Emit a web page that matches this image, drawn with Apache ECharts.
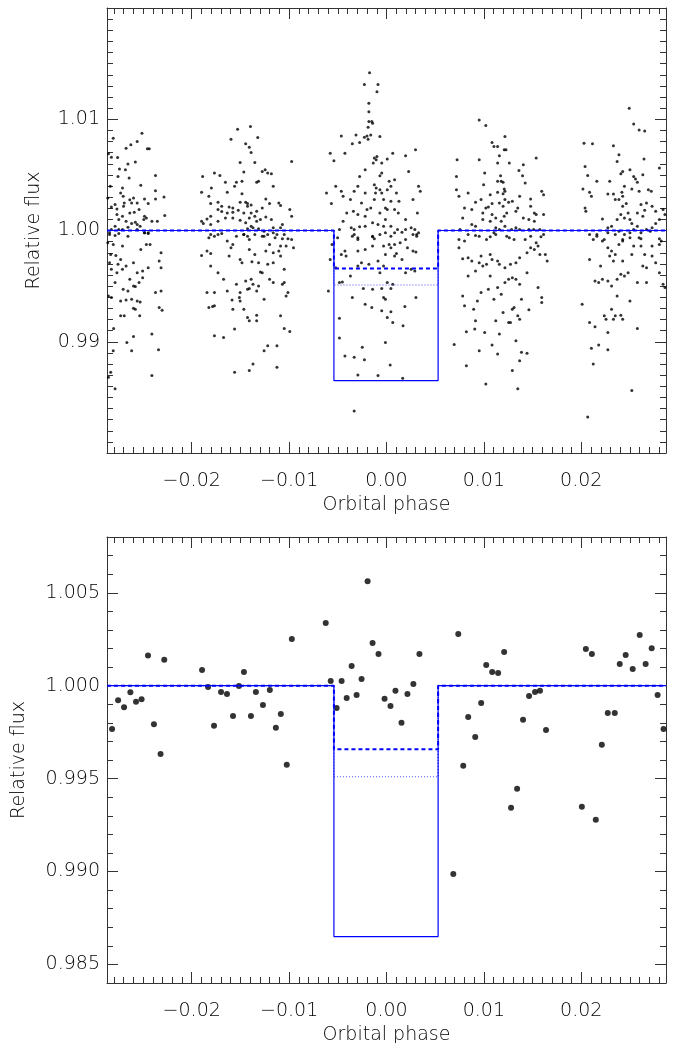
<!DOCTYPE html>
<html><head><meta charset="utf-8">
<script src="https://cdn.jsdelivr.net/npm/echarts@6/dist/echarts.min.js"></script>
<style>html,body{margin:0;padding:0;background:#fff}#c{width:678px;height:1043px}</style>
</head><body><div id="c"></div>
<script>
// ---------- tick values & labels ----------
const phaseTicks = [-0.02, -0.01, 0, 0.01, 0.02];
const phaseTickLabels = ['\u22120.02', '\u22120.01', '0.00', '0.01', '0.02'];
const fluxTicksTop = [0.99, 1.00, 1.01];
const fluxTickLabelsTop = ['0.99', '1.00', '1.01'];
const fluxTicksBottom = [0.985, 0.990, 0.995, 1.000, 1.005];
const fluxTickLabelsBottom = ['0.985', '0.990', '0.995', '1.000', '1.005'];

// ---------- unbinned photometry (top panel), [phase, relative flux] ----------
const unbinnedA = [[-0.02855,1.00689],[-0.02825,1.00659],[-0.02806,1.0083],[-0.02761,1.00656],[-0.02836,1.00397],[-0.02862,1.00292],[-0.02742,1.00552],[-0.02757,1.00486],[-0.02681,1.00546],[-0.02674,1.0074],[-0.02625,1.0077],[-0.0256,1.008],[-0.02511,1.00874],[-0.02579,1.00615],[-0.02655,1.00597],[-0.02643,1.00472],[-0.02711,1.00382],[-0.0273,1.00337],[-0.02704,1.00307],[-0.02787,1.00233],[-0.02768,1.00194],[-0.02825,1.00212],[-0.02693,1.00248],[-0.02636,1.00277],[-0.02598,1.00292],[-0.0256,1.00248],[-0.02523,1.00406],[-0.02485,1.00284],[-0.02447,1.00242],[-0.02436,1.00734],[-0.02455,1.00734],[-0.02372,1.00495],[-0.02372,1.00358],[-0.02372,1.00284],[-0.02285,1.00301],[-0.02277,1.00134],[-0.02485,1.00128],[-0.02466,1.00113],[-0.02492,1.00098],[-0.0256,1.00054],[-0.0253,1.00039],[-0.02579,1.00075],[-0.02617,1.00063],[-0.02674,1.00084],[-0.02711,1.00128],[-0.02749,1.00098],[-0.02768,1.00143],[-0.02787,1.00039],[-0.02825,1.00009],[-0.02844,0.99979],[-0.02749,1.00009],[-0.02711,1.00009],[-0.02655,1.0003],[-0.02485,0.99979],[-0.02447,0.99979],[-0.02353,1.00084],[-0.02409,1.00084],[-0.0256,1.00009],[-0.027,1.00218],[-0.02636,1.00158],[-0.0259,1.00164],[-0.02617,1.00248],[-0.02541,1.00188],
[-0.02844,0.99964],[-0.02787,0.99955],[-0.02749,0.99973],[-0.02655,0.99949],[-0.02862,0.9989],[-0.02806,0.99875],[-0.02711,0.9986],[-0.02832,0.99785],[-0.02779,0.99776],[-0.02844,0.99711],[-0.0273,0.9974],[-0.02711,0.99651],[-0.02674,0.99681],[-0.02757,0.99696],[-0.02787,0.99532],[-0.02855,0.99412],[-0.02825,0.99397],[-0.02704,0.99472],[-0.02598,0.99502],[-0.02579,0.99496],[-0.02541,0.99532],[-0.02504,0.99636],[-0.02447,0.99666],[-0.02428,0.99875],[-0.02485,0.99979],[-0.02447,0.99973],[-0.02334,0.99726],[-0.02315,0.998],[-0.02315,0.99666],[-0.02372,0.99442],[-0.02315,0.99457],[-0.02334,0.99308],[-0.02304,0.99284],[-0.0273,0.99367],[-0.02674,0.99376],[-0.02617,0.99382],[-0.0256,0.99367],[-0.0253,0.99358],[-0.02579,0.99293],[-0.02598,0.99302],[-0.0273,0.99233],[-0.02693,0.99233],[-0.02534,0.99233],[-0.02802,0.9912],[-0.02598,0.99048],[-0.02666,0.98994],[-0.02617,0.9892],[-0.02806,0.9892],[-0.02832,0.98726],[-0.02855,0.98681],[-0.02787,0.98577],[-0.02409,0.99069],[-0.02409,0.98696],[-0.02341,0.98929],[-0.02523,0.9983],[-0.02466,0.99875],[-0.02598,0.99711],[-0.0256,0.99621],[-0.02636,0.99561],[-0.02768,0.99621],[-0.02825,0.99651],[-0.02655,0.99457],[-0.02504,0.99576]];
const unbinnedB = [[-0.01899,1.00343],[-0.01824,1.00307],[-0.01798,1.00382],[-0.01888,1.00486],[-0.01767,1.00516],[-0.01711,1.00495],[-0.01654,1.00433],[-0.01635,1.00343],[-0.0173,1.00254],[-0.01805,1.00242],[-0.01692,1.00218],[-0.01597,1.00821],[-0.01529,1.0091],[-0.01397,1.00934],[-0.01322,1.00836],[-0.01446,1.00779],[-0.01409,1.00749],[-0.0139,1.00701],[-0.01352,1.00612],[-0.01503,1.00612],[-0.01465,1.00525],[-0.01484,1.00442],[-0.01541,1.00433],[-0.0156,1.00397],[-0.01484,1.00331],[-0.01503,1.00254],[-0.01446,1.00254],[-0.01427,1.00242],[-0.0139,1.0023],[-0.01616,1.00212],[-0.01578,1.00203],[-0.01276,1.00531],[-0.01246,1.00546],[-0.0122,1.00516],[-0.01182,1.0051],[-0.01314,1.00442],[-0.01333,1.00433],[-0.01163,1.00397],[-0.01239,1.00283],[-0.01201,1.00242],[-0.01106,1.00248],[-0.01088,1.00224],[-0.00974,1.00621],[-0.00993,1.00188],[-0.00974,1.00128],[-0.01276,1.00203],[-0.01333,1.00173],[-0.0139,1.00158],[-0.01465,1.00158],[-0.01522,1.00182],[-0.01578,1.00164],[-0.01635,1.00158],[-0.01692,1.0017],[-0.0173,1.00188],[-0.01805,1.00128],[-0.01843,1.00104],[-0.01899,1.00084],[-0.01881,1.00063],[-0.01805,1.00054],[-0.0173,1.00084],[-0.01654,1.00113],[-0.01578,1.00113],[-0.01503,1.00093],[-0.01446,1.00069],[-0.0139,1.00039],[-0.01427,1.00015],[-0.01371,1.00024],[-0.01314,1.00015],[-0.01257,0.99994],[-0.01163,1.00024],[-0.01088,1.00024],[-0.01069,1.00054],[-0.01182,1.00098],[-0.01239,1.00122],[-0.01295,1.00098],[-0.01333,1.00084],[-0.01352,1.00128],[-0.01409,1.00113],[-0.01427,1.00218],[-0.01805,0.99964],[-0.01767,0.99949],[-0.01465,0.99964],[-0.01427,0.99949],[-0.01276,0.99949],[-0.01144,0.99934],[-0.01125,0.99964],[-0.0105,0.99964],[-0.01012,0.99925],[-0.01163,0.99979],
[-0.01899,0.99776],[-0.01843,0.99815],[-0.01805,0.99794],[-0.01824,0.99934],[-0.0173,0.99964],[-0.01692,0.99973],[-0.01635,0.99905],[-0.01597,0.99845],[-0.01616,0.9977],[-0.01805,0.99681],[-0.0173,0.99621],[-0.01673,0.99561],[-0.01767,0.99442],[-0.01635,0.99457],[-0.01586,0.99376],[-0.01503,0.99367],[-0.01511,0.99397],[-0.01578,0.99293],[-0.01503,0.99442],[-0.01541,0.99517],[-0.01446,0.99546],[-0.0139,0.99561],[-0.01371,0.99517],[-0.01427,0.99472],[-0.01409,0.99478],[-0.01333,0.99457],[-0.01314,0.99502],[-0.01257,0.99382],[-0.01276,0.99621],[-0.01295,0.99627],[-0.01201,0.99561],[-0.01163,0.99532],[-0.0105,0.99532],[-0.01069,0.99517],[-0.01031,0.99412],[-0.01012,0.99442],[-0.0105,0.99651],[-0.01088,0.9977],[-0.01163,0.99711],[-0.0122,0.99696],[-0.01314,0.99711],[-0.01382,0.9972],[-0.01409,0.9983],[-0.01484,0.99711],[-0.01503,0.9974],[-0.01352,0.99785],[-0.01239,0.99815],[-0.01163,0.998],[-0.01106,0.99815],[-0.01088,0.9986],[-0.01069,0.99925],[-0.0122,0.99964],[-0.01257,0.99949],[-0.01352,0.99964],[-0.01409,0.99919],[-0.01465,0.99964],[-0.01541,0.99949],[-0.01578,0.99875],[-0.01465,0.99293],[-0.01427,0.99218],[-0.01409,0.99188],[-0.01333,0.99188],[-0.01333,0.99239],[-0.01088,0.99233],[-0.0105,0.9912],[-0.00993,0.99093],[-0.0156,0.99114],[-0.01767,0.99054],[-0.01673,0.99039],[-0.01257,0.9892],[-0.0122,0.98965],[-0.01125,0.98965],[-0.01371,0.988],[-0.01409,0.98741],[-0.0156,0.98726],[-0.01125,0.98771],[-0.00974,0.99919],[-0.01031,0.9986],[-0.01201,0.99875],[-0.00955,0.99845],[-0.01824,0.99308],[-0.01786,0.99317],[-0.01843,0.99442],[-0.01767,0.99323]];
const unbinnedC = [[-0.00616,1.00337],[-0.00578,1.00695],[-0.0054,1.00627],[-0.00566,1.00242],[-0.00464,1.0085],[-0.00427,1.00695],[-0.00521,1.00397],[-0.00464,1.00352],[-0.00446,1.00307],[-0.00351,1.00779],[-0.00313,1.00859],[-0.00276,1.00791],[-0.00227,1.00839],[-0.002,1.0085],[-0.00189,1.00821],[-0.00162,1.00859],[-0.00068,1.00844],[-0.00143,1.00964],[-0.00151,1.00979],[-0.00189,1.00928],[-0.00181,1.00979],[-0.00181,1.01068],[-0.00181,1.01143],[-0.00098,1.01247],[-0.00087,1.01313],[-0.00227,1.01313],[-0.00174,1.01417],[-0.00276,1.00486],[-0.00332,1.00352],[-0.0037,1.00278],[-0.00408,1.00158],[-0.00446,1.00084],[-0.00483,1.00009],[-0.00362,1.00024],[-0.00332,1.00009],[-0.00294,1.00397],[-0.00257,1.00248],[-0.00219,1.00337],[-0.002,1.00188],[-0.00162,1.00203],[-0.00125,1.00278],[-0.00125,1.00412],[-0.00106,1.00382],[-0.00113,1.00337],[-0.00068,1.00367],[-0.00049,1.00337],[-0.0003,1.00278],[-0.00011,1.00203],[0.00008,1.00367],[0.00027,1.00442],[0.00045,1.00263],[0.00083,1.00457],[0.00102,1.00337],[0.00128,1.00263],[-0.00106,1.00636],[-0.00125,1.00651],[-0.00136,1.00606],[-0.00098,1.00665],[-0.00049,1.00516],[-0.00068,1.00492],[0.00008,1.00642],[0.00064,1.00695],[0.00196,1.00671],[0.00298,1.00725],[0.00227,1.00531],[0.00272,1.00278],[0.00317,1.00158],[0.00329,1.00397],[0.00347,1.00352],[0.00253,1.00024],[0.00291,1.00009],[0.00196,1.00009],[0.00113,1.00009],[0.00045,1.00039],[-0.0003,1.00039],[-0.00087,1.00054],[-0.00143,1.00069],[-0.00219,1.00039],[-0.00276,1.00033],[-0.00332,0.99964],[-0.00294,0.99934],[-0.00143,0.99943],[-0.00011,0.99979],[0.00083,0.99979],[0.00159,0.99985],[0.0031,0.99964],[0.00329,0.99979],[0.00008,1.00188],[-0.00068,1.00158],[0.00083,1.00188],[0.00121,1.00158],[0.00196,1.00098],[-0.00219,1.00128],[-0.00294,1.00143],[-0.0034,1.00173],[0.00045,1.00397],[-0.00049,1.00606],[-0.00219,1.00546],[-0.00011,1.00098],
[-0.00578,0.9974],[-0.00559,0.99875],[-0.00502,0.99934],[-0.00464,0.99785],[-0.00427,0.99815],[-0.00415,0.9977],[-0.00351,0.99949],[-0.00294,0.99919],[-0.00143,0.99949],[-0.00125,0.99925],[-0.00068,0.99964],[0.00045,0.99949],[0.00083,0.99875],[0.0014,0.9989],[0.00196,0.99919],[0.00272,0.99964],[0.0031,0.99949],[0.00215,0.99845],[0.00272,0.99815],[0.00302,0.99806],[-0.00483,0.99532],[-0.00453,0.99537],[-0.00294,0.99681],[-0.00257,0.99711],[-0.00181,0.99696],[-0.00143,0.9986],[-0.0003,0.9986],[-0.00011,0.99785],[0.00027,0.99875],[0.00045,0.99845],[0.00083,0.9977],[0.00102,0.99794],[0.00159,0.9974],[0.00253,0.99651],[0.00291,0.99636],[0.00008,0.99532],[0.00064,0.99517],[0.00045,0.99478],[-0.00049,0.99478],[-0.00143,0.99472],[-0.00238,0.99478],[-0.00351,0.99397],[-0.00219,0.99338],[-0.00151,0.99308],[-0.00049,0.99278],[-0.0003,0.99397],[-0.00011,0.99382],[0.00045,0.99269],[0.00008,0.99218],[0.00064,0.99173],[0.00189,0.99317],[0.0017,0.99144],[0.00302,0.99397],[-0.00483,0.99212],[-0.00483,0.99033],[-0.00249,0.9895],[-0.00011,0.98994],[-0.00427,0.98872],[-0.00332,0.9886],[-0.00227,0.98839],[0.00038,0.98791],[-0.00294,0.98702],[-0.00087,0.98696],[0.00166,0.98672],[-0.00332,0.98377],[-0.00597,0.99457],[-0.00521,0.99666],[-0.00068,0.99621],[0.00196,0.99621],[-0.00294,0.99815],[-0.00219,0.9983],[-0.00087,0.99726],[-0.0003,0.99681],[-0.0037,0.99591]];
const unbinnedD = [[0.00725,1.00636],[0.00718,1.00486],[0.00718,1.00367],[0.00744,1.00307],[0.00838,1.00337],[0.00952,1.00994],[0.0102,1.00943],[0.00952,1.00636],[0.01008,1.00516],[0.00997,1.00412],[0.01084,1.00791],[0.01103,1.00755],[0.01141,1.00755],[0.01216,1.00844],[0.01159,1.00671],[0.01141,1.00606],[0.01209,1.00725],[0.01227,1.00725],[0.01261,1.00606],[0.0136,1.0054],[0.01397,1.00492],[0.01405,1.00591],[0.01537,1.00651],[0.01424,1.00427],[0.01141,1.00442],[0.01178,1.00442],[0.01197,1.00433],[0.01171,1.00492],[0.01209,1.00373],[0.01216,1.00352],[0.01197,1.00331],[0.01141,1.00343],[0.01065,1.00322],[0.00971,1.00278],[0.00914,1.00254],[0.01046,1.00212],[0.01084,1.00242],[0.01216,1.00278],[0.01254,1.00254],[0.01159,1.00248],[0.01197,1.00218],[0.01292,1.00263],[0.01367,1.00307],[0.0148,1.00283],[0.01594,1.00352],[0.01613,1.00322],[0.01613,1.00143],[0.01518,1.00158],[0.01537,1.00143],[0.0148,1.00218],[0.01518,1.00084],[0.01462,1.00098],[0.01405,1.00113],[0.01348,1.00203],[0.01329,1.00173],[0.01235,1.00158],[0.01209,1.00128],[0.01178,1.00084],[0.01122,1.00113],[0.01084,1.00143],[0.0102,1.00203],[0.00989,1.00158],[0.00876,1.00188],[0.00801,1.00203],[0.00782,1.00113],[0.00876,1.00054],[0.00914,1.00039],[0.00989,1.00098],[0.01065,1.00084],[0.01122,1.00024],[0.01159,1.00009],[0.01216,1.00039],[0.01284,1.00009],[0.01329,1.00024],[0.01367,1.00009],[0.01462,1.00009],[0.01511,1.00009],[0.01575,1.00009],[0.00914,0.99955],[0.01065,0.99943],[0.01261,0.99934],[0.0148,0.99949],[0.01586,0.99943],[0.01613,0.99964],[0.00755,1.00009],[0.01103,0.99979],
[0.00744,0.99845],[0.00782,0.99746],[0.00838,0.99755],[0.00876,0.99726],[0.00952,0.99711],[0.00989,0.99681],[0.00914,0.99636],[0.00971,0.9977],[0.01065,0.99785],[0.01084,0.9974],[0.01027,0.99696],[0.01141,0.99726],[0.01159,0.99696],[0.01216,0.99666],[0.01273,0.99696],[0.01329,0.99711],[0.01367,0.99755],[0.01443,0.998],[0.0148,0.99845],[0.01518,0.9983],[0.01556,0.9986],[0.01575,0.99785],[0.01631,0.99785],[0.0165,0.99726],[0.01537,0.9989],[0.01424,0.99919],[0.0131,0.99919],[0.01235,0.99949],[0.01122,0.99964],[0.01027,0.99919],[0.00952,0.99949],[0.00801,0.99905],[0.00838,0.99964],[0.00744,0.99919],[0.00782,0.99412],[0.00801,0.99323],[0.00895,0.99293],[0.00933,0.99367],[0.00971,0.99442],[0.01046,0.99472],[0.01103,0.99382],[0.01141,0.99487],[0.01178,0.99427],[0.01254,0.99561],[0.01292,0.99576],[0.01329,0.99561],[0.01367,0.99517],[0.01443,0.99621],[0.01556,0.99487],[0.01594,0.99397],[0.01594,0.99352],[0.01462,0.99287],[0.01386,0.99382],[0.0131,0.99308],[0.01348,0.99233],[0.01292,0.99293],[0.01273,0.99173],[0.01254,0.99173],[0.01367,0.99203],[0.01197,0.99263],[0.01122,0.99188],[0.00914,0.99188],[0.00906,0.99114],[0.0082,0.9909],[0.01008,0.99084],[0.01159,0.99069],[0.01084,0.9897],[0.01141,0.9889],[0.00952,0.9892],[0.00695,0.98976],[0.0082,0.98785],[0.01329,0.99009],[0.01386,0.98905],[0.01443,0.98896],[0.01367,0.9883],[0.01292,0.98741],[0.0102,0.98621],[0.01348,0.98577],[0.00838,0.99591],[0.01065,0.99591],[0.01216,0.99532]];
const unbinnedE = [[0.02028,1.00785],[0.02115,1.00779],[0.02039,1.00576],[0.02066,1.00495],[0.0216,1.00442],[0.02017,1.00373],[0.02085,1.00343],[0.02104,1.00307],[0.02039,1.00203],[0.02047,1.00173],[0.02217,1.00104],[0.02292,1.00442],[0.02273,1.00328],[0.0233,1.00328],[0.0233,1.00761],[0.02368,1.00621],[0.02387,1.0068],[0.02425,1.00531],[0.02406,1.0051],[0.02492,1.01098],[0.02538,1.00958],[0.02594,1.00904],[0.02651,1.00895],[0.02644,1.00642],[0.025,1.00546],[0.02538,1.00486],[0.02557,1.00463],[0.02576,1.00433],[0.02632,1.00501],[0.02519,1.00373],[0.02443,1.00397],[0.02417,1.00343],[0.02387,1.00278],[0.02349,1.00278],[0.02462,1.00242],[0.02425,1.00218],[0.02406,1.00143],[0.02368,1.00098],[0.02311,1.00039],[0.02273,1.00024],[0.02443,1.00113],[0.025,1.00098],[0.02519,1.00063],[0.02538,1.00009],[0.02576,1.00039],[0.02613,1.00233],[0.0267,1.00248],[0.02651,1.00182],[0.02632,1.00128],[0.02689,1.00367],[0.02719,1.00352],[0.02764,1.00173],[0.02802,1.00561],[0.0284,1.00188],[0.02859,1.00143],[0.02802,1.00098],[0.02764,1.00063],[0.02727,1.00024],[0.02708,0.99994],[0.0267,1.00009],[0.02613,0.99979],[0.025,0.99979],[0.02443,0.99964],[0.02387,0.99994],[0.02349,0.99964],[0.02273,0.99979],[0.0216,0.99964],[0.02236,0.99919],[0.02425,0.99919],[0.02613,0.99925],[0.02802,0.99925],[0.02727,1.00218],[0.02576,1.00158],[0.02481,1.00158],[0.02425,1.00307],[0.02594,1.00352],
[0.02085,0.99964],[0.02123,0.99919],[0.0216,0.99949],[0.02217,0.99905],[0.02273,0.99845],[0.02311,0.99815],[0.02292,0.9977],[0.0233,0.99726],[0.02349,0.99785],[0.02387,0.99875],[0.02425,0.99905],[0.025,0.99934],[0.02519,0.99785],[0.02538,0.9986],[0.02594,0.99934],[0.02651,0.99785],[0.0267,0.99666],[0.02632,0.99681],[0.02727,0.9977],[0.02764,0.99711],[0.02802,0.99621],[0.0284,0.99517],[0.02859,0.99487],[0.02802,0.99875],[0.02821,0.99905],[0.02406,0.99606],[0.02443,0.99591],[0.02481,0.99621],[0.025,0.99367],[0.02576,0.99532],[0.0267,0.99532],[0.02368,0.99412],[0.02311,0.99502],[0.02273,0.99546],[0.02217,0.99561],[0.02179,0.99532],[0.02141,0.99546],[0.02085,0.9974],[0.02009,0.99338],[0.02085,0.99173],[0.02141,0.99135],[0.02236,0.99233],[0.02254,0.99203],[0.02311,0.99293],[0.0233,0.99203],[0.02349,0.99233],[0.02406,0.99239],[0.02425,0.99203],[0.02273,0.99084],[0.02179,0.9897],[0.02104,0.98941],[0.02123,0.988],[0.02273,0.98929],[0.02576,0.9912],[0.02519,0.98562],[0.02066,0.98323],[0.02368,0.99561],[0.02613,0.9986],[0.02727,0.9986],[0.02198,0.99681],[0.02425,0.99726]];

// ---------- binned photometry (bottom panel) ----------
const binned = [[-0.02818,0.99767],[-0.02756,0.99922],[-0.02695,0.99884],[-0.0263,0.99965],[-0.02572,0.99914],[-0.02515,0.99927],[-0.02449,1.00163],[-0.02388,0.99793],[-0.0232,0.99632],[-0.02282,1.0014],
[-0.01894,1.00084],[-0.01832,0.99993],[-0.01771,0.99784],[-0.01699,0.99966],[-0.01638,0.99955],[-0.01576,0.99837],[-0.01515,0.99998],[-0.01464,1.00074],[-0.01392,0.99837],[-0.01341,0.99966],[-0.01269,0.99896],[-0.01198,0.99977],[-0.01136,0.99773],[-0.01085,0.99848],[-0.01024,0.99574],[-0.00972,1.00251],
[-0.00624,1.00337],[-0.00573,1.00025],[-0.00512,0.9988],[-0.00461,1.00025],[-0.00409,0.99934],[-0.00358,1.00106],[-0.00307,0.9995],[-0.00256,1.00036],[-0.00194,1.00562],[-0.00143,1.00229],[-0.00082,1.0017],[-0.0002,0.99929],[0.00041,0.99891],[0.00092,0.99972],[0.00154,0.998],[0.00215,0.99955],[0.00276,1.00009],[0.00338,1.0017],
[0.00686,0.98987],[0.00737,1.00278],[0.00788,0.99569],[0.00839,0.99832],[0.00911,0.99724],[0.00972,0.99907],[0.01024,1.00111],[0.01085,1.00074],[0.01146,1.00068],[0.01208,1.00181],[0.01279,0.99343],[0.01341,0.99445],[0.01402,0.99816],[0.01464,0.99945],[0.01525,0.99966],[0.01576,0.99972],[0.01638,0.99762],
[0.02006,0.99348],[0.02047,1.00197],[0.02109,1.0017],[0.02149,0.99279],[0.02211,0.99682],[0.02272,0.99853],[0.02344,0.99853],[0.02395,1.00117],[0.02456,1.00165],[0.02528,1.0009],[0.026,1.00272],[0.02661,1.00117],[0.02723,1.00202],[0.02784,0.9995],[0.02845,0.99767]];

// ---------- transit models ----------
const modelSolid  = [[-0.0287,1],[-0.0054,1],[-0.0054,0.9865],[0.0053,0.9865],[0.0053,1],[0.0287,1]];
const modelDashed = [[-0.0287,1],[-0.0054,1],[-0.0054,0.99658],[0.0053,0.99658],[0.0053,1],[0.0287,1]];
const modelDotted = [[-0.0287,1],[-0.0054,1],[-0.0054,0.9951],[0.0053,0.9951],[0.0053,1],[0.0287,1]];

const XMIN = -0.0287, XMAX = 0.0287;
const FONT = "'DejaVu Sans Light','DejaVu Sans ExtraLight','DejaVu Sans',sans-serif";
const TXT = '#000', AX = '#333', BLUE = '#0000ff';

function minorVals(lo, hi) { const a = []; for (let k = Math.ceil(lo*1000-1e-6); k <= Math.floor(hi*1000+1e-6); k++) a.push(k/1000); return a; }
function fmt(vals, labels) { return v => { for (let i = 0; i < vals.length; i++) if (Math.abs(v - vals[i]) < 1e-7) return labels[i]; return ''; }; }
const textStyle = { fontSize: 19, fontFamily: FONT, fontWeight: 200, color: TXT };

function xAxes(g, nameGap) {
  const base = { gridIndex: g, type: 'value', min: XMIN, max: XMAX, splitLine: { show: false },
    axisLine: { show: true, onZero: false, lineStyle: { color: AX, width: 1 } } };
  const hidden = { show: false, onZero: false };
  const minor = minorVals(XMIN, XMAX);
  const maj = { show: true, inside: true, length: 11, customValues: phaseTicks, lineStyle: { color: AX, width: 1 } };
  const mnr = { show: true, inside: true, length: 6, customValues: minor, lineStyle: { color: AX, width: 1 } };
  return [
    Object.assign({}, base, { position: 'bottom', axisTick: maj,
      axisLabel: Object.assign({ show: true, customValues: phaseTicks, formatter: fmt(phaseTicks, phaseTickLabels), margin: 19 }, textStyle),
      name: 'Orbital phase', nameLocation: 'middle', nameGap: 43, nameTextStyle: textStyle }),
    Object.assign({}, base, { position: 'bottom', axisLine: hidden, axisTick: mnr, axisLabel: { show: false } }),
    Object.assign({}, base, { position: 'top', axisTick: maj, axisLabel: { show: false } }),
    Object.assign({}, base, { position: 'top', axisLine: hidden, axisTick: mnr, axisLabel: { show: false } })
  ];
}
function yAxes(g, min, max, ticks, labels, nameGap) {
  const base = { gridIndex: g, type: 'value', min: min, max: max, splitLine: { show: false },
    axisLine: { show: true, onZero: false, lineStyle: { color: AX, width: 1 } } };
  const hidden = { show: false, onZero: false };
  const minor = minorVals(min, max);
  const maj = { show: true, inside: true, length: 11, customValues: ticks, lineStyle: { color: AX, width: 1 } };
  const mnr = { show: true, inside: true, length: 6, customValues: minor, lineStyle: { color: AX, width: 1 } };
  return [
    Object.assign({}, base, { position: 'left', axisTick: maj,
      axisLabel: Object.assign({ show: true, customValues: ticks, formatter: fmt(ticks, labels), margin: 7 }, textStyle),
      name: 'Relative flux', nameLocation: 'middle', nameRotate: 90, nameGap: nameGap, nameTextStyle: textStyle }),
    Object.assign({}, base, { position: 'left', axisLine: hidden, axisTick: mnr, axisLabel: { show: false } }),
    Object.assign({}, base, { position: 'right', axisTick: maj, axisLabel: { show: false } }),
    Object.assign({}, base, { position: 'right', axisLine: hidden, axisTick: mnr, axisLabel: { show: false } })
  ];
}

function modelSeries(xi, yi) {
  return [
    { type: 'line', xAxisIndex: xi, yAxisIndex: yi, data: modelDotted, showSymbol: false, symbol: 'none', z: 5,
      lineStyle: { color: '#4a4aff', width: 1.2, type: [1, 2] } },
    { type: 'line', xAxisIndex: xi, yAxisIndex: yi, data: modelDashed, showSymbol: false, symbol: 'none', z: 6,
      lineStyle: { color: BLUE, width: 2, type: [4, 3] } },
    { type: 'line', xAxisIndex: xi, yAxisIndex: yi, data: modelSolid, showSymbol: false, symbol: 'none', z: 7,
      lineStyle: { color: BLUE, width: 1.2 } }
  ];
}

const chart = echarts.init(document.getElementById('c'), null, { renderer: 'canvas' });
chart.setOption({
  animation: false,
  backgroundColor: '#fff',
  grid: [
    { left: 107, top: 8, width: 559, height: 445, outerBoundsMode: 'none', containLabel: false },
    { left: 107, top: 537, width: 559, height: 446, outerBoundsMode: 'none', containLabel: false }
  ],
  xAxis: xAxes(0).concat(xAxes(1)),
  yAxis: yAxes(0, 0.98, 1.02, fluxTicksTop, fluxTickLabelsTop, 63)
    .concat(yAxes(1, 0.984, 1.008, fluxTicksBottom, fluxTickLabelsBottom, 78)),
  series: [
    { type: 'scatter', xAxisIndex: 0, yAxisIndex: 0, symbolSize: 3, z: 3,
      itemStyle: { color: '#000' }, data: [].concat(unbinnedA, unbinnedB, unbinnedC, unbinnedD, unbinnedE) },
    { type: 'scatter', xAxisIndex: 4, yAxisIndex: 4, symbolSize: 6, z: 3,
      itemStyle: { color: '#000' }, data: binned }
  ].concat(modelSeries(0, 0), modelSeries(4, 4))
});
</script></body></html>
